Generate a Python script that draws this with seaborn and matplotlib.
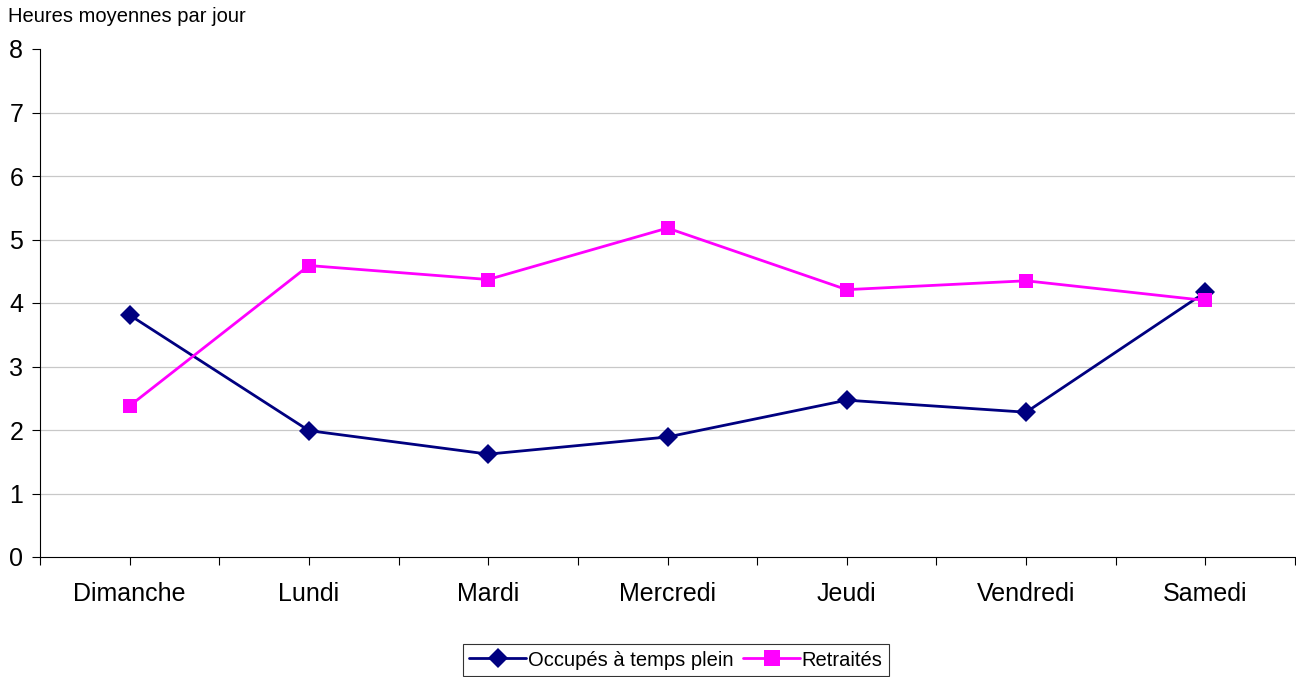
import matplotlib
matplotlib.use("Agg")
import matplotlib.pyplot as plt
import seaborn as sns
import pandas as pd
import numpy as np
from matplotlib.lines import Line2D

days = ["Dimanche", "Lundi", "Mardi", "Mercredi", "Jeudi", "Vendredi", "Samedi"]
occupes = [3.81, 1.99, 1.62, 1.89, 2.47, 2.28, 4.17]
retraites = [2.38, 4.59, 4.37, 5.18, 4.21, 4.35, 4.04]
series_names = ["Occupés à temps plein", "Retraités"]
yticks = [0, 1, 2, 3, 4, 5, 6, 7, 8]

sns.set_theme(style="white")
plt.rcParams['font.family'] = ['Liberation Sans', 'DejaVu Sans']
plt.rcParams['text.color'] = 'black'
plt.rcParams['xtick.color'] = 'black'
plt.rcParams['ytick.color'] = 'black'
plt.rcParams['axes.labelcolor'] = 'black'

df = pd.DataFrame({
    "x": list(range(len(days))) * 2,
    "val": occupes + retraites,
    "serie": [series_names[0]] * len(days) + [series_names[1]] * len(days),
})

fig = plt.figure(figsize=(12.96, 6.77), dpi=100)
W, H = 1296, 677
ax = fig.add_axes([40 / W, (H - 557) / H, (1295 - 40) / W, (557 - 49) / H])

palette = {series_names[0]: "#000080", series_names[1]: "#FF00FF"}
sns.lineplot(data=df, x="x", y="val", hue="serie", style="serie",
             markers={series_names[0]: "D", series_names[1]: "s"},
             dashes=False, palette=palette, ax=ax, linewidth=2,
             markersize=10.5, markeredgewidth=0, legend=False)

ax.set_xlim(-0.5, len(days) - 0.5)
ax.set_ylim(0, 8)
ax.set_yticks(yticks)
ax.set_yticklabels([str(v) for v in yticks], fontsize=18)
ax.set_xticks(range(len(days)))
ax.set_xticklabels(days, fontsize=18)
ax.set_xticks(np.arange(-0.5, len(days), 1.0), minor=True)
ax.tick_params(axis="x", which="major", length=6, width=0.8, color="black", labelcolor="black", pad=12, direction="out", bottom=True)
ax.tick_params(axis="x", which="minor", length=6, width=0.8, color="black", direction="out", bottom=True)
ax.tick_params(axis="y", which="major", length=6, width=0.8, color="black", labelcolor="black", pad=6, direction="out", left=True)
ax.set_xlabel("")
ax.set_ylabel("")

for v in yticks[1:-1]:
    ax.axhline(v, color="#c8c8c8", linewidth=0.9, zorder=0)

for s in ["top", "right"]:
    ax.spines[s].set_visible(False)
for s in ["left", "bottom"]:
    ax.spines[s].set_color("black")
    ax.spines[s].set_linewidth(0.8)

fig.text(8 / W, 1 - 17 / H, "Heures moyennes par jour", fontsize=14.5, va="center", ha="left", color="black")

handles = [
    Line2D([], [], color=palette[series_names[0]], marker="D", markersize=10, markeredgewidth=0, linewidth=2),
    Line2D([], [], color=palette[series_names[1]], marker="s", markersize=11, markeredgewidth=0, linewidth=2),
]
leg = fig.legend(handles, series_names, loc="center", bbox_to_anchor=(676 / W, 1 - 660 / H),
                 ncol=2, frameon=True, fancybox=False, fontsize=14.5, handlelength=2.8,
                 handletextpad=0.1, columnspacing=0.5, borderpad=0.3, borderaxespad=0)
leg.get_frame().set_edgecolor("black")
leg.get_frame().set_linewidth(0.8)
for t in leg.get_texts():
    t.set_color("black")

fig.savefig("out.png", dpi=100)
